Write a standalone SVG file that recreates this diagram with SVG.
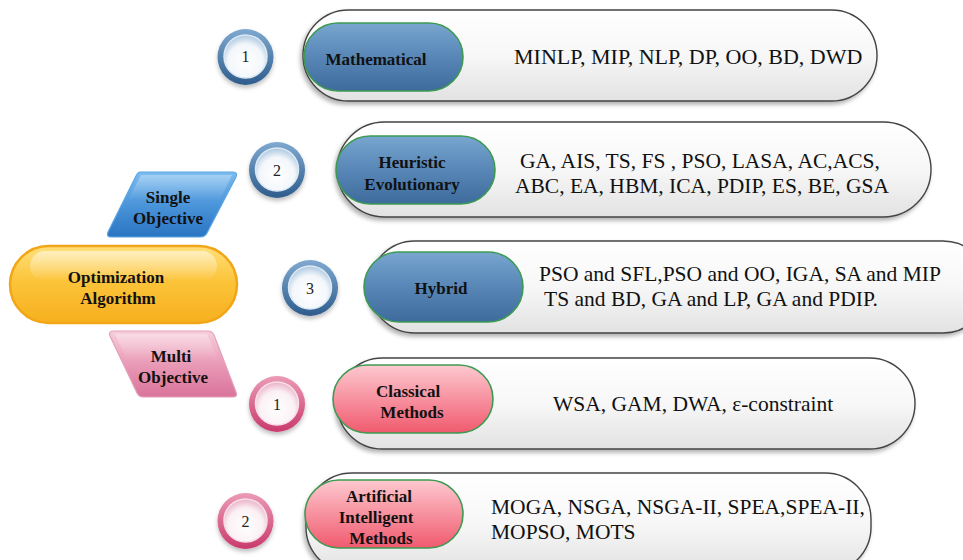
<svg xmlns="http://www.w3.org/2000/svg" width="963" height="560" viewBox="0 0 963 560">
  <defs>
    <filter id="shadow" x="-10%" y="-20%" width="120%" height="150%">
      <feDropShadow dx="-2" dy="3" stdDeviation="2" flood-color="#000" flood-opacity="0.3"/>
    </filter>
    <filter id="softShadow" x="-20%" y="-20%" width="140%" height="150%">
      <feDropShadow dx="0" dy="3" stdDeviation="2" flood-color="#000" flood-opacity="0.25"/>
    </filter>
    <linearGradient id="boxGrad" x1="0" y1="0" x2="0" y2="1">
      <stop offset="0" stop-color="#ffffff"/>
      <stop offset="0.5" stop-color="#f7f7f7"/>
      <stop offset="1" stop-color="#e2e2e2"/>
    </linearGradient>
    <linearGradient id="blueGrad" x1="0" y1="0" x2="0" y2="1">
      <stop offset="0" stop-color="#78a6d0"/>
      <stop offset="0.5" stop-color="#5886b6"/>
      <stop offset="1" stop-color="#3d6c9c"/>
    </linearGradient>
    <linearGradient id="pinkGrad" x1="0" y1="0" x2="0" y2="1">
      <stop offset="0" stop-color="#fdc9d0"/>
      <stop offset="0.5" stop-color="#f7919f"/>
      <stop offset="1" stop-color="#f05a6e"/>
    </linearGradient>
    <linearGradient id="orangeGrad" x1="0" y1="0" x2="0" y2="1">
      <stop offset="0" stop-color="#ffe07a"/>
      <stop offset="0.45" stop-color="#fcc43a"/>
      <stop offset="1" stop-color="#f6b01e"/>
    </linearGradient>
    <linearGradient id="singleGrad" x1="0" y1="0" x2="0" y2="1">
      <stop offset="0" stop-color="#7cbcf0"/>
      <stop offset="0.5" stop-color="#4b95da"/>
      <stop offset="1" stop-color="#2a74c2"/>
    </linearGradient>
    <linearGradient id="multiGrad" x1="0" y1="0" x2="0" y2="1">
      <stop offset="0" stop-color="#f7cfdc"/>
      <stop offset="0.5" stop-color="#e99ab6"/>
      <stop offset="1" stop-color="#d9739a"/>
    </linearGradient>
    <linearGradient id="ringBlue" x1="0" y1="0" x2="0" y2="1">
      <stop offset="0" stop-color="#7fa9d0"/>
      <stop offset="1" stop-color="#2d5c8c"/>
    </linearGradient>
    <linearGradient id="ringPink" x1="0" y1="0" x2="0" y2="1">
      <stop offset="0" stop-color="#eb9bb7"/>
      <stop offset="1" stop-color="#c93a6c"/>
    </linearGradient>
    <radialGradient id="coreBlue" cx="0.5" cy="0.62" r="0.62">
      <stop offset="0" stop-color="#ffffff"/>
      <stop offset="0.65" stop-color="#f3f7fb"/>
      <stop offset="1" stop-color="#aac6e0"/>
    </radialGradient>
    <radialGradient id="corePink" cx="0.5" cy="0.62" r="0.62">
      <stop offset="0" stop-color="#ffffff"/>
      <stop offset="0.65" stop-color="#fbf1f5"/>
      <stop offset="1" stop-color="#e9b0c6"/>
    </radialGradient>
    <linearGradient id="gloss" x1="0" y1="0" x2="0" y2="1">
      <stop offset="0" stop-color="#ffffff" stop-opacity="0.55"/>
      <stop offset="1" stop-color="#ffffff" stop-opacity="0"/>
    </linearGradient>
  </defs>
  <style>
    .box { fill: url(#boxGrad); stroke: #444; stroke-width: 1.4; filter: url(#shadow); }
    .pillB { fill: url(#blueGrad); stroke: #3d9a52; stroke-width: 1.6; }
    .pillP { fill: url(#pinkGrad); stroke: #3d9a52; stroke-width: 1.6; }
    .ringB { fill: url(#ringBlue); filter: url(#softShadow); }
    .ringP { fill: url(#ringPink); filter: url(#softShadow); }
    .coreB { fill: url(#coreBlue); stroke: #dce8f3; stroke-width: 1.5; }
    .coreP { fill: url(#corePink); stroke: #f8dfe8; stroke-width: 1.5; }
    text { font-family: 'Liberation Serif', 'DejaVu Serif', serif; fill: #111; }
    .num { font-size: 16px; fill: #222; text-anchor: middle; }
    .lbl { font-weight: bold; font-size: 17px; text-anchor: middle; }
    .big { font-weight: bold; font-size: 17px; text-anchor: middle; }
    .list { font-size: 21.5px; }
  </style>

  <rect width="963" height="560" fill="#ffffff"/>

  <!-- root node -->
  <g id="optimization-algorithm">
    <rect x="10" y="246" width="227" height="77" rx="38.5" fill="url(#orangeGrad)" stroke="#f2a516" stroke-width="2.5"/>
    <rect x="30" y="251" width="187" height="30" rx="15" fill="url(#gloss)"/>
    <text class="big" x="116" y="283">Optimization</text>
    <text class="big" x="118" y="304">Algorithm</text>
  </g>

  <!-- branch nodes -->
  <g id="single-objective">
    <path d="M140 172 L233 172 Q238 172 236 177 L207 233 Q205 237 200 237 L111 237 Q106 237 108 232 L136 176 Q138 172 140 172 Z" fill="url(#singleGrad)" stroke="#5aa6e6" stroke-width="1.2"/>
    <path d="M141 175 L232 175 L220 200 L128 200 Z" fill="url(#gloss)" opacity="0.6"/>
    <text class="big" x="168" y="203">Single</text>
    <text class="big" x="168" y="224">Objective</text>
  </g>

  <g id="multi-objective">
    <path d="M114 331 L208 331 Q212 331 214 335 L236 392 Q238 397 233 397 L143 397 Q139 397 137 393 L110 336 Q108 331 114 331 Z" fill="url(#multiGrad)" stroke="#e3a0bc" stroke-width="1.2"/>
    <path d="M115 334 L207 334 L218 360 L127 360 Z" fill="url(#gloss)" opacity="0.6"/>
    <text class="big" x="171" y="362">Multi</text>
    <text class="big" x="173" y="383">Objective</text>
  </g>

  <!-- single objective: 1 mathematical -->
  <g id="circle-s1">
    <circle class="ringB" cx="245.5" cy="57" r="28"/>
    <circle class="coreB" cx="245.5" cy="56.5" r="21.5"/>
    <text class="num" x="245.5" y="62">1</text>
  </g>
  <g id="mathematical">
    <rect class="box" x="303" y="10" width="574" height="91" rx="45.5"/>
    <rect class="pillB" x="304" y="23" width="159" height="68" rx="34"/>
    <text class="lbl" x="376" y="65">Mathematical</text>
    <text class="list" x="514" y="64" style="font-size:22px">MINLP, MIP, NLP, DP, OO, BD, DWD</text>
  </g>

  <!-- single objective: 2 heuristic evolutionary -->
  <g id="circle-s2">
    <circle class="ringB" cx="277" cy="170" r="28"/>
    <circle class="coreB" cx="277" cy="169.5" r="21.5"/>
    <text class="num" x="277" y="176">2</text>
  </g>
  <g id="heuristic-evolutionary">
    <rect class="box" x="337" y="122" width="594" height="95" rx="47.5"/>
    <rect class="pillB" x="336" y="136" width="159" height="68" rx="34"/>
    <text class="lbl" x="412" y="168">Heuristic</text>
    <text class="lbl" x="412" y="190">Evolutionary</text>
    <text class="list" x="520" y="168">GA, AIS, TS, FS , PSO, LASA, AC,ACS,</text>
    <text class="list" x="515" y="193">ABC,  EA, HBM, ICA, PDIP, ES, BE, GSA</text>
  </g>

  <!-- single objective: 3 hybrid -->
  <g id="circle-s3">
    <circle class="ringB" cx="310" cy="288" r="28"/>
    <circle class="coreB" cx="310" cy="287.5" r="21.5"/>
    <text class="num" x="310" y="294">3</text>
  </g>
  <g id="hybrid">
    <rect class="box" x="369" y="241" width="620" height="92" rx="46"/>
    <rect class="pillB" x="364" y="252" width="159" height="70" rx="35"/>
    <text class="lbl" x="441" y="294">Hybrid</text>
    <text class="list" x="539" y="281">PSO and SFL,PSO and OO, IGA, SA and MIP</text>
    <text class="list" x="544" y="306">TS and BD, GA and LP, GA and PDIP.</text>
  </g>

  <!-- multi objective: 1 classical -->
  <g id="circle-m1">
    <circle class="ringP" cx="277" cy="404" r="28"/>
    <circle class="coreP" cx="277" cy="403.5" r="21.5"/>
    <text class="num" x="277" y="410">1</text>
  </g>
  <g id="classical-methods">
    <rect class="box" x="337" y="358" width="578" height="91" rx="45.5"/>
    <rect class="pillP" x="333" y="365" width="160" height="68" rx="34"/>
    <text class="lbl" x="408" y="397">Classical</text>
    <text class="lbl" x="412" y="418">Methods</text>
    <text class="list" x="553" y="411">WSA, GAM, DWA, ε-constraint</text>
  </g>

  <!-- multi objective: 2 artificial intelligent -->
  <g id="circle-m2">
    <circle class="ringP" cx="245.5" cy="521" r="28"/>
    <circle class="coreP" cx="245.5" cy="520.5" r="21.5"/>
    <text class="num" x="245.5" y="527">2</text>
  </g>
  <g id="artificial-intelligent-methods">
    <rect class="box" x="306" y="473" width="565" height="100" rx="46"/>
    <rect class="pillP" x="305" y="480" width="158" height="68" rx="34"/>
    <text class="lbl" x="379" y="502">Artificial</text>
    <text class="lbl" x="376" y="523">Intelligent</text>
    <text class="lbl" x="381" y="544">Methods</text>
    <text class="list" x="491" y="514">MOGA, NSGA, NSGA-II, SPEA,SPEA-II,</text>
    <text class="list" x="491" y="539">MOPSO, MOTS</text>
  </g>
</svg>
